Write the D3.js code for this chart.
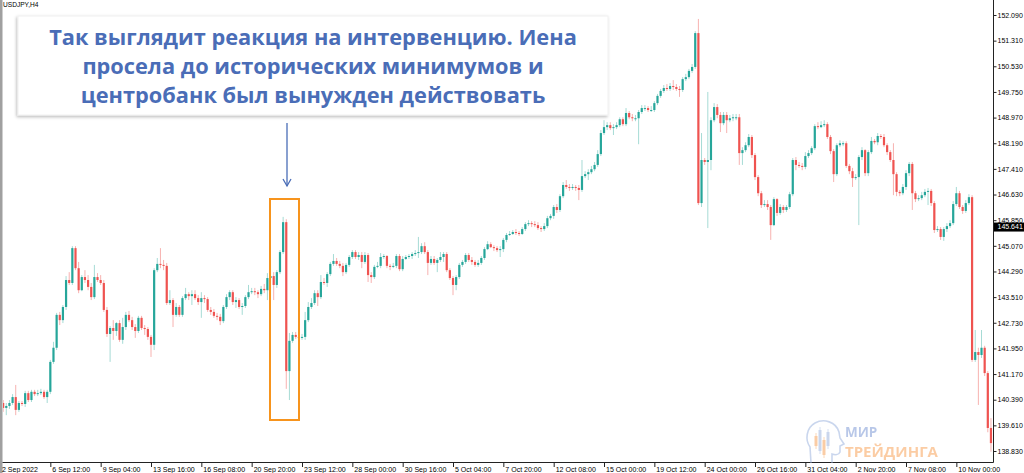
<!DOCTYPE html>
<html>
<head>
<meta charset="utf-8">
<script src="https://cdn.jsdelivr.net/npm/d3@7"></script>
<style>
body { margin: 0; background: #fff; }
svg { display: block; }
.axis text { font-family: "Liberation Sans", Arial, sans-serif; font-size: 7.8px; fill: #000; }
.axis.price text { font-size: 7px; }
</style>
</head>
<body>
<svg id="chart" width="1024" height="473"></svg>
<script>
// USDJPY H4, 2 Sep - 11 Nov 2022. open of each bar = close of the previous one
var firstOpen = 140.29;

var closes = [
  140.14,140.20,140.29,140.47,140.08,140.29,140.26,140.59,140.38,140.63,
  140.56,140.59,140.63,140.47,140.63,141.54,141.97,142.97,142.81,143.21,
  144.03,143.94,145.00,144.39,143.72,144.12,144.03,143.82,143.51,144.12,
  144.03,143.94,143.12,142.39,142.57,142.48,142.72,142.21,142.60,142.97,
  142.81,142.60,142.48,142.88,142.57,142.54,142.30,142.06,144.33,144.52,
  144.49,144.46,143.33,143.42,142.97,143.21,142.97,143.48,143.60,143.54,
  143.60,143.48,143.36,143.48,143.45,143.12,143.06,142.94,142.91,142.78,
  143.21,143.51,143.66,143.36,143.42,143.21,143.24,143.51,143.66,143.69,
  143.66,143.60,143.76,143.72,144.09,144.15,143.88,144.27,144.88,145.79,
  141.26,142.18,142.36,142.30,142.27,142.30,142.81,143.21,143.33,143.63,
  143.51,143.97,143.94,144.21,144.52,144.61,144.52,144.46,144.27,144.49,
  144.73,144.88,144.73,144.79,144.58,144.79,144.18,144.12,144.43,144.46,
  144.73,144.76,144.46,144.43,144.46,144.76,144.36,144.67,144.73,144.76,
  144.82,144.85,144.88,145.06,144.88,144.55,144.67,144.55,144.64,144.73,
  144.82,144.33,144.09,143.88,144.12,144.49,144.58,144.79,144.64,144.58,
  144.49,144.55,144.70,144.97,145.12,145.03,145.00,144.94,144.97,145.25,
  145.40,145.43,145.49,145.46,145.43,145.58,145.73,145.76,145.73,145.70,
  145.61,145.58,145.67,145.91,145.98,146.25,146.16,146.58,146.92,146.86,
  146.83,146.86,146.83,146.77,147.19,147.25,147.31,147.40,147.53,147.86,
  148.50,148.68,148.74,148.65,148.68,148.74,148.92,148.77,149.11,148.98,
  148.95,148.95,149.14,149.26,149.26,149.20,149.20,149.41,149.63,149.78,
  149.87,149.84,149.93,149.90,149.84,149.81,150.14,150.20,150.39,150.51,
  151.54,146.37,147.68,147.62,147.68,148.89,149.29,149.05,148.80,149.05,
  148.89,148.95,148.98,148.98,147.89,147.98,148.13,148.38,147.83,147.16,
  146.67,146.31,146.34,146.25,145.70,146.49,146.07,146.25,146.16,146.25,
  146.64,147.68,147.53,147.50,147.47,147.80,147.89,148.04,148.71,148.68,
  148.74,148.77,148.38,147.95,147.25,148.13,148.19,148.19,147.50,147.34,
  147.13,147.16,147.77,147.98,147.28,147.92,148.26,148.22,148.41,148.38,
  148.13,147.92,147.68,147.25,146.71,146.67,146.86,147.28,147.56,146.67,
  146.49,146.52,146.61,146.71,146.74,146.37,145.55,145.58,145.34,145.58,
  145.67,145.76,146.34,146.67,146.25,146.13,146.37,146.55,141.60,141.84,
  141.75,141.97,141.20,139.53,139.07
];

var highs = [
  140.38,140.29,140.38,140.56,140.84,140.35,140.35,140.66,140.66,140.69,
  140.69,140.69,140.72,140.69,140.69,141.60,142.15,143.03,143.06,143.27,
  144.15,144.27,145.06,145.06,144.58,144.18,144.33,144.18,143.94,144.49,
  144.24,144.18,144.03,143.21,142.63,142.81,142.75,142.81,142.88,143.06,
  143.09,142.91,142.69,142.94,142.94,142.66,142.60,142.36,144.39,144.70,
  145.00,144.64,144.55,143.72,143.48,143.33,143.27,143.54,143.79,143.66,
  143.72,143.72,143.57,143.66,143.57,143.51,143.21,143.15,143.03,143.00,
  143.27,143.60,143.72,143.72,143.51,143.48,143.33,143.57,143.88,143.79,
  143.79,143.72,143.85,143.91,144.24,144.64,144.27,144.33,144.94,145.95,
  145.88,142.42,142.45,142.45,142.36,142.39,143.06,143.36,143.48,143.72,
  143.72,144.18,144.09,144.27,144.58,144.82,144.70,144.61,144.55,144.55,
  144.79,144.94,144.94,144.88,144.88,144.88,144.85,144.27,144.49,144.58,
  144.85,144.82,144.79,144.52,144.55,144.82,144.82,144.76,144.79,144.82,
  144.88,144.94,145.34,145.15,145.18,144.94,144.76,144.76,144.70,144.88,
  144.88,144.88,144.39,144.15,144.18,144.55,144.64,144.85,144.85,144.73,
  144.64,144.64,144.76,145.03,145.21,145.18,145.09,145.06,145.06,145.31,
  145.46,145.52,145.55,145.58,145.52,145.64,145.79,145.85,145.82,145.82,
  145.79,145.67,145.76,145.98,146.04,146.31,146.34,146.64,147.01,147.07,
  146.95,146.95,146.92,146.92,147.68,147.34,147.40,147.50,147.62,147.98,
  148.59,148.89,148.83,148.83,148.77,148.83,148.98,148.98,149.26,149.17,
  149.08,149.05,149.20,149.35,149.35,149.32,149.32,149.47,149.69,149.84,
  149.96,149.99,150.02,150.11,149.99,149.93,150.20,150.30,150.45,150.60,
  151.60,151.97,148.50,147.74,149.75,148.98,149.41,149.38,149.14,149.14,
  149.14,149.05,149.08,149.08,149.08,148.07,148.22,148.47,148.44,147.89,
  147.22,146.74,146.46,146.46,146.31,146.55,146.52,146.34,146.31,146.31,
  146.71,147.74,147.77,147.62,147.59,147.92,147.98,148.10,148.77,148.83,
  148.86,148.89,148.83,148.44,148.01,148.19,148.28,148.25,148.25,147.56,
  147.44,147.25,147.83,148.07,148.01,147.98,148.38,148.32,148.50,148.47,
  148.47,148.19,147.98,148.19,147.31,146.77,146.95,147.37,147.62,147.62,
  146.74,146.61,146.71,146.80,146.83,146.80,146.43,145.67,145.64,145.64,
  145.76,145.85,146.43,146.86,146.74,146.31,146.46,146.64,146.61,142.51,
  141.97,142.51,142.03,141.26,139.83
];

var lows = [
  140.02,139.92,140.11,140.23,139.92,140.02,140.20,140.17,140.32,140.32,
  140.50,140.50,140.53,140.41,140.29,140.56,141.48,141.90,142.66,142.72,
  143.12,143.88,143.88,144.33,143.63,143.69,143.94,143.72,143.42,143.45,
  143.97,143.88,143.06,142.30,141.54,142.21,142.33,142.15,142.09,142.51,
  142.75,142.51,142.27,142.42,142.51,142.36,142.21,141.69,141.90,144.27,
  144.39,144.33,143.27,143.27,142.60,142.91,142.91,142.91,143.42,143.42,
  143.27,143.42,143.27,142.88,143.33,143.06,142.97,142.88,142.81,142.66,
  142.72,143.15,143.42,143.27,143.18,143.15,142.97,143.18,143.45,143.60,
  143.57,143.48,143.54,143.63,143.42,143.42,143.42,143.79,144.21,144.82,
  140.72,140.38,142.12,142.24,142.21,142.21,142.21,142.75,143.15,143.27,
  143.24,143.45,143.88,143.82,144.15,144.46,144.46,144.39,144.15,144.21,
  144.43,144.67,144.67,144.64,144.39,144.52,143.97,143.94,144.06,144.39,
  144.39,144.67,144.39,144.33,144.39,144.39,144.30,144.30,144.64,144.67,
  144.67,144.76,144.70,144.82,144.82,144.18,144.49,144.49,144.27,144.58,
  144.58,144.27,144.03,143.57,143.72,144.06,144.43,144.52,144.58,144.49,
  144.43,144.43,144.49,144.64,144.94,145.00,144.91,144.88,144.73,144.88,
  145.18,145.37,145.40,145.40,145.37,145.40,145.52,145.67,145.64,145.64,
  145.55,145.49,145.52,145.61,145.85,145.89,146.07,146.10,146.52,146.80,
  146.74,146.77,146.74,146.46,146.71,147.13,147.07,147.25,147.34,147.47,
  147.80,148.44,148.59,148.59,148.44,148.62,148.68,148.71,148.71,148.92,
  148.86,148.86,148.16,149.08,149.17,149.14,149.14,149.14,149.35,149.57,
  149.72,149.78,149.78,149.81,149.78,149.60,149.75,150.08,150.14,150.33,
  150.45,146.31,146.25,147.53,145.61,147.37,148.83,148.95,148.53,148.74,
  148.50,148.83,148.86,148.89,147.53,147.53,147.92,148.07,147.74,147.07,
  146.58,146.22,146.25,146.16,145.25,145.67,145.98,146.01,146.07,146.10,
  146.19,146.58,147.37,147.44,147.37,147.40,147.74,147.83,147.98,148.62,
  148.65,148.68,148.32,147.86,147.01,147.19,148.07,148.10,147.44,147.25,
  146.86,147.07,145.70,147.68,147.19,147.19,147.86,148.16,148.13,148.32,
  148.07,147.83,147.62,146.61,146.58,146.58,146.61,146.77,147.19,146.16,
  146.40,146.43,146.46,146.55,146.31,146.28,145.46,145.49,145.25,145.22,
  145.49,145.61,145.70,146.28,146.19,146.04,146.07,146.31,141.54,141.54,
  140.23,141.66,141.11,139.40,138.81
];

var priceTicks = [152.090,151.310,150.530,149.750,148.970,148.190,147.410,146.630,145.850,
  145.070,144.290,143.510,142.730,141.950,141.170,140.390,139.610,138.830];

var timeLabels = ["2 Sep 2022","6 Sep 12:00","9 Sep 04:00","13 Sep 16:00","16 Sep 08:00",
  "20 Sep 20:00","23 Sep 12:00","28 Sep 00:00","30 Sep 16:00","5 Oct 04:00","7 Oct 20:00",
  "12 Oct 08:00","15 Oct 00:00","19 Oct 12:00","24 Oct 00:00","26 Oct 16:00","31 Oct 04:00",
  "2 Nov 20:00","7 Nov 08:00","10 Nov 00:00"];
var barsPerLabel = 16;

var lastPrice = 145.641;
var symbolLabel = "USDJPY,H4";
var noteLines = ["Так выглядит реакция на интервенцию. Иена",
  "просела до исторических минимумов и",
  "центробанк был вынужден действовать"];

var W = 1024, H = 473;
var plotRight = 993, plotBottom = 462;

var svg = d3.select("#chart");

var x = d3.scaleLinear().domain([0, 316]).range([0, 994.1]);
var y = d3.scaleLinear().domain([138.83, 152.09]).range([451, 15]);

// candle table
var candles = closes.map(function(c, i) {
  return { i: i + 1, o: i === 0 ? firstOpen : closes[i - 1], c: c, h: highs[i], l: lows[i] };
});

var bullCol = "#26a69a", bearCol = "#ef5350";
var bullWick = "#a6dbd5", bearWick = "#f7b2b0";

var defs = svg.append("defs");
defs.append("clipPath").attr("id", "plot")
  .append("rect").attr("x", 3).attr("y", 0).attr("width", plotRight - 3).attr("height", plotBottom);

var g = svg.append("g").attr("clip-path", "url(#plot)");

g.selectAll("line.wick").data(candles).enter().append("line")
  .attr("class", "wick")
  .attr("x1", d => x(d.i)).attr("x2", d => x(d.i))
  .attr("y1", d => y(d.h)).attr("y2", d => y(d.l))
  .attr("stroke", d => d.c >= d.o ? bullWick : bearWick)
  .attr("stroke-width", 1);

g.selectAll("rect.body").data(candles).enter().append("rect")
  .attr("class", "body")
  .attr("x", d => x(d.i) - 1.1)
  .attr("width", 2.2)
  .attr("y", d => y(Math.max(d.o, d.c)))
  .attr("height", d => Math.max(1, Math.abs(y(d.o) - y(d.c))))
  .attr("fill", d => d.c >= d.o ? bullCol : bearCol);

// window frame on the left
svg.append("rect").attr("x", 0).attr("y", 0).attr("width", 2.5).attr("height", H).attr("fill", "#a0a0a0");

// axes lines
svg.append("line").attr("x1", plotRight + 0.5).attr("x2", plotRight + 0.5).attr("y1", 0).attr("y2", plotBottom + 0.5)
  .attr("stroke", "#222").attr("stroke-width", 1);
svg.append("line").attr("x1", 2.5).attr("x2", plotRight + 0.5).attr("y1", plotBottom + 0.5).attr("y2", plotBottom + 0.5)
  .attr("stroke", "#222").attr("stroke-width", 1);

// price axis
var yAxis = d3.axisRight(y).tickValues(priceTicks).tickFormat(d3.format(".3f")).tickSize(3).tickPadding(1);
var ya = svg.append("g").attr("class", "axis price").attr("transform", "translate(" + (plotRight + 0.5) + ",0)").call(yAxis);
ya.select(".domain").remove();
ya.selectAll("line").attr("stroke", "#222");

// last price marker
var lp = svg.append("g").attr("class", "axis price");
lp.append("rect").attr("x", plotRight + 1).attr("y", y(lastPrice) - 4.5).attr("width", W - plotRight - 1).attr("height", 9).attr("fill", "#000");
lp.append("text").attr("x", plotRight + 4.5).attr("y", y(lastPrice)).attr("dy", "0.34em")
  .style("fill", "#fff").text(lastPrice.toFixed(3));

// time axis
var ta = svg.append("g").attr("class", "axis");
timeLabels.forEach(function(t, k) {
  var xp = x(k * barsPerLabel);
  if (k > 0) ta.append("line").attr("x1", xp + 0.5).attr("x2", xp + 0.5).attr("y1", plotBottom).attr("y2", plotBottom + 5).attr("stroke", "#222");
  var tx = ta.append("text").attr("x", xp + 2).attr("y", 472).text(t);
  var tw = tx.node().getComputedTextLength();
  tx.attr("textLength", tw * 0.9).attr("lengthAdjust", "spacingAndGlyphs");
});

svg.append("text").attr("x", 3).attr("y", 7).style("font-family", "Liberation Sans, Arial, sans-serif")
  .style("font-size", "6.6px").text(symbolLabel);

// orange frame round the intervention bars
svg.append("rect").attr("x", 270).attr("y", 199).attr("width", 29).attr("height", 221)
  .attr("fill", "none").attr("stroke", "#f7941d").attr("stroke-width", 2);

// note box
var f = defs.append("filter").attr("id", "shadow").attr("x", "-5%").attr("y", "-10%").attr("width", "110%").attr("height", "130%");
f.append("feDropShadow").attr("dx", -1).attr("dy", 1.5).attr("stdDeviation", 1.5).attr("flood-color", "#000").attr("flood-opacity", 0.28);

svg.append("rect").attr("x", 18).attr("y", 16).attr("width", 590).attr("height", 99)
  .attr("fill", "#fff").attr("stroke", "#f0f0f0").attr("filter", "url(#shadow)");

var blue = "#4a6db7";
var note = svg.append("g").attr("fill", blue)
  .style("font-family", "'Open Sans', 'Noto Sans', sans-serif").style("font-weight", 700);
var lines = note.selectAll("text").data(noteLines).enter().append("text")
  .attr("x", 313).attr("y", (d, k) => 45 + k * 29)
  .attr("text-anchor", "middle").style("font-size", "20px").text(d => d);
var w0 = lines.node().getComputedTextLength();
lines.style("font-size", (20 * 528 / w0) + "px");

// arrow
svg.append("line").attr("x1", 287).attr("x2", 287).attr("y1", 123).attr("y2", 186)
  .attr("stroke", blue).attr("stroke-width", 1.3);
svg.append("polyline").attr("points", "283,179 287,186 291,179")
  .attr("fill", "none").attr("stroke", blue).attr("stroke-width", 1.3);

// watermark logo
var logo = svg.append("g").attr("opacity", 0.55);
logo.append("path")
  .attr("d", "M811,463 L810,447 C805,440 806,428 815,423 C824,418 836,422 839,432 L840,438 L844,444 L840,446 L840,452 C839,455 835,455 832,454 L832,463")
  .attr("fill", "none").attr("stroke", "#9fb6e0").attr("stroke-width", 1.6);
[[816, 436, 446, "#f7a35c"], [820, 430, 451, "#9fb6e0"], [824, 440, 455, "#f7a35c"], [828, 432, 446, "#9fb6e0"]]
  .forEach(function(cd) {
    logo.append("line").attr("x1", cd[0]).attr("x2", cd[0]).attr("y1", cd[1] - 3).attr("y2", cd[2] + 3).attr("stroke", cd[3]).attr("stroke-width", 0.8);
    logo.append("rect").attr("x", cd[0] - 1.5).attr("y", cd[1]).attr("width", 3).attr("height", cd[2] - cd[1]).attr("fill", cd[3]);
  });
logo.append("text").attr("x", 845).attr("y", 436.5).attr("fill", "#7f9bd6")
  .style("font-family", "'Open Sans', sans-serif").style("font-weight", 700).style("font-size", "13.5px").text("МИР");
logo.append("text").attr("x", 845).attr("y", 457).attr("fill", "#f9a45a")
  .style("font-family", "'Open Sans', sans-serif").style("font-weight", 700).style("font-size", "15px").text("ТРЕЙДИНГА");
</script>
</body>
</html>
